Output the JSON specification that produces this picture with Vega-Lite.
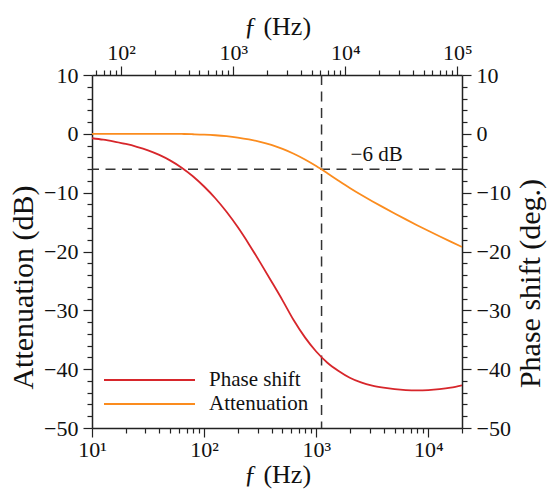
{
  "$schema": "https://vega.github.io/schema/vega-lite/v6.json",
  "width": 370,
  "height": 353,
  "autosize": "none",
  "padding": {"left": 92, "top": 75, "right": 85, "bottom": 61},
  "background": "white",
  "config": {
    "view": {"stroke": null},
    "font": "Liberation Serif",
    "axis": {
      "domainColor": "#222222",
      "domainWidth": 1.5,
      "tickColor": "#222222",
      "tickWidth": 1.2,
      "labelColor": "#111111",
      "titleColor": "#111111",
      "labelFont": "Liberation Serif",
      "titleFont": "Liberation Serif",
      "labelFontSize": 22,
      "titleFontSize": 26,
      "titleFontWeight": "normal",
      "grid": false,
      "labelOverlap": false,
      "labelFlush": false
    },
    "legend": {"labelFont": "Liberation Serif"}
  },
  "datasets": {
    "curves": [
      {"f": 10, "v": -0.75, "series": "Phase shift"},
      {"f": 12.6, "v": -1.0, "series": "Phase shift"},
      {"f": 15.8, "v": -1.33, "series": "Phase shift"},
      {"f": 20, "v": -1.72, "series": "Phase shift"},
      {"f": 25.1, "v": -2.2, "series": "Phase shift"},
      {"f": 31.6, "v": -2.8, "series": "Phase shift"},
      {"f": 39.8, "v": -3.58, "series": "Phase shift"},
      {"f": 50.1, "v": -4.55, "series": "Phase shift"},
      {"f": 63.1, "v": -5.75, "series": "Phase shift"},
      {"f": 79.4, "v": -7.2, "series": "Phase shift"},
      {"f": 100, "v": -8.95, "series": "Phase shift"},
      {"f": 125.9, "v": -10.95, "series": "Phase shift"},
      {"f": 158.5, "v": -13.25, "series": "Phase shift"},
      {"f": 199.5, "v": -15.85, "series": "Phase shift"},
      {"f": 251.2, "v": -18.75, "series": "Phase shift"},
      {"f": 316.2, "v": -21.85, "series": "Phase shift"},
      {"f": 398.1, "v": -25.05, "series": "Phase shift"},
      {"f": 501.2, "v": -28.3, "series": "Phase shift"},
      {"f": 631, "v": -31.7, "series": "Phase shift"},
      {"f": 794.3, "v": -34.6, "series": "Phase shift"},
      {"f": 1000, "v": -37.0, "series": "Phase shift"},
      {"f": 1259, "v": -38.9, "series": "Phase shift"},
      {"f": 1585, "v": -40.3, "series": "Phase shift"},
      {"f": 1995, "v": -41.45, "series": "Phase shift"},
      {"f": 2512, "v": -42.25, "series": "Phase shift"},
      {"f": 3162, "v": -42.8, "series": "Phase shift"},
      {"f": 3981, "v": -43.15, "series": "Phase shift"},
      {"f": 5012, "v": -43.4, "series": "Phase shift"},
      {"f": 6310, "v": -43.55, "series": "Phase shift"},
      {"f": 7943, "v": -43.6, "series": "Phase shift"},
      {"f": 10000, "v": -43.55, "series": "Phase shift"},
      {"f": 12589, "v": -43.4, "series": "Phase shift"},
      {"f": 15849, "v": -43.15, "series": "Phase shift"},
      {"f": 20000, "v": -42.75, "series": "Phase shift"},
      {"f": 10, "v": 0, "series": "Attenuation"},
      {"f": 50.1, "v": 0, "series": "Attenuation"},
      {"f": 63.1, "v": -0.02, "series": "Attenuation"},
      {"f": 79.4, "v": -0.07, "series": "Attenuation"},
      {"f": 100, "v": -0.135, "series": "Attenuation"},
      {"f": 125.9, "v": -0.24, "series": "Attenuation"},
      {"f": 158.5, "v": -0.4, "series": "Attenuation"},
      {"f": 199.5, "v": -0.63, "series": "Attenuation"},
      {"f": 251.2, "v": -0.945, "series": "Attenuation"},
      {"f": 316.2, "v": -1.36, "series": "Attenuation"},
      {"f": 398.1, "v": -1.895, "series": "Attenuation"},
      {"f": 501.2, "v": -2.57, "series": "Attenuation"},
      {"f": 631, "v": -3.395, "series": "Attenuation"},
      {"f": 794.3, "v": -4.37, "series": "Attenuation"},
      {"f": 1000, "v": -5.485, "series": "Attenuation"},
      {"f": 1259, "v": -6.705, "series": "Attenuation"},
      {"f": 1585, "v": -7.965, "series": "Attenuation"},
      {"f": 1995, "v": -9.195, "series": "Attenuation"},
      {"f": 2512, "v": -10.355, "series": "Attenuation"},
      {"f": 3162, "v": -11.45, "series": "Attenuation"},
      {"f": 3981, "v": -12.505, "series": "Attenuation"},
      {"f": 5012, "v": -13.535, "series": "Attenuation"},
      {"f": 6310, "v": -14.545, "series": "Attenuation"},
      {"f": 7943, "v": -15.53, "series": "Attenuation"},
      {"f": 10000, "v": -16.485, "series": "Attenuation"},
      {"f": 12589, "v": -17.415, "series": "Attenuation"},
      {"f": 15849, "v": -18.325, "series": "Attenuation"},
      {"f": 20000, "v": -19.23, "series": "Attenuation"}
    ],
    "topaxis": [
      {"ft": 55, "v": -50},
      {"ft": 110000, "v": 10}
    ],
    "hline": [{"v": -6}],
    "vline": [{"f": 1117}],
    "note": [{"f": 3460, "v": -3.6, "label": "−6 dB"}]
  },
  "layer": [
    {
      "data": {"name": "hline"},
      "mark": {"type": "rule", "color": "#333333", "strokeWidth": 1.5, "strokeDash": [10, 6.5]},
      "encoding": {
        "y": {"field": "v", "type": "quantitative", "scale": {"domain": [-50, 10], "nice": false, "zero": false}, "axis": null}
      }
    },
    {
      "data": {"name": "vline"},
      "mark": {"type": "rule", "color": "#333333", "strokeWidth": 1.5, "strokeDash": [10, 6.5]},
      "encoding": {
        "x": {"field": "f", "type": "quantitative", "scale": {"type": "log", "domain": [10, 20000], "nice": false}, "axis": null}
      }
    },
    {
      "data": {"name": "curves"},
      "mark": {"type": "line", "strokeWidth": 1.8, "interpolate": "monotone", "clip": true},
      "encoding": {
        "x": {
          "field": "f", "type": "quantitative",
          "scale": {"type": "log", "domain": [10, 20000], "nice": false},
          "axis": {
            "orient": "bottom",
            "title": "ƒ (Hz)",
            "titlePadding": 1,
            "values": [10, 20, 30, 40, 50, 60, 70, 80, 90, 100, 200, 300, 400, 500, 600, 700, 800, 900, 1000, 2000, 3000, 4000, 5000, 6000, 7000, 8000, 9000, 10000, 20000],
            "labelExpr": "datum.value == 10 ? '10¹' : datum.value == 100 ? '10²' : datum.value == 1000 ? '10³' : datum.value == 10000 ? '10⁴' : ''",
            "tickSize": {"condition": {"test": "datum.value == 10 || datum.value == 100 || datum.value == 1000 || datum.value == 10000", "value": 9}, "value": 5},
            "labelPadding": 2
          }
        },
        "y": {
          "field": "v", "type": "quantitative",
          "scale": {"domain": [-50, 10], "nice": false, "zero": false},
          "axis": {
            "orient": "left",
            "title": "Attenuation (dB)",
            "titleFontSize": 30,
            "titleY": 212,
            "values": [-50, -48, -46, -44, -42, -40, -38, -36, -34, -32, -30, -28, -26, -24, -22, -20, -18, -16, -14, -12, -10, -8, -6, -4, -2, 0, 2, 4, 6, 8, 10],
            "labelExpr": "datum.value % 10 == 0 ? format(datum.value, 'd') : ''",
            "tickSize": {"condition": {"test": "datum.value % 10 == 0", "value": 9}, "value": 5},
            "labelPadding": 5,
            "titlePadding": 5
          }
        },
        "color": {
          "field": "series", "type": "nominal",
          "scale": {"domain": ["Phase shift", "Attenuation"], "range": ["#d7262b", "#fb8c1e"]},
          "legend": {
            "orient": "none",
            "legendX": 11,
            "legendY": 294,
            "title": null,
            "padding": 0,
            "symbolType": "M-1,0H8.1",
            "symbolSize": 400,
            "symbolStrokeWidth": 1.8,
            "labelFontSize": 21,
            "labelColor": "#111111",
            "labelOffset": 84,
            "rowPadding": 3
          }
        }
      }
    },
    {
      "data": {"name": "note"},
      "mark": {"type": "text", "fontSize": 21, "font": "Liberation Serif", "color": "#111111", "align": "center", "baseline": "middle"},
      "encoding": {
        "x": {"field": "f", "type": "quantitative", "scale": {"type": "log", "domain": [10, 20000], "nice": false}, "axis": null},
        "y": {"field": "v", "type": "quantitative", "scale": {"domain": [-50, 10], "nice": false, "zero": false}, "axis": null},
        "text": {"field": "label"}
      }
    },
    {
      "data": {"name": "topaxis"},
      "mark": {"type": "point", "opacity": 0},
      "encoding": {
        "x": {
          "field": "ft", "type": "quantitative",
          "scale": {"type": "log", "domain": [55, 110000], "nice": false},
          "axis": {
            "orient": "top",
            "title": "ƒ (Hz)",
            "titlePadding": 2,
            "values": [60, 70, 80, 90, 100, 200, 300, 400, 500, 600, 700, 800, 900, 1000, 2000, 3000, 4000, 5000, 6000, 7000, 8000, 9000, 10000, 20000, 30000, 40000, 50000, 60000, 70000, 80000, 90000, 100000],
            "labelExpr": "datum.value == 100 ? '10²' : datum.value == 1000 ? '10³' : datum.value == 10000 ? '10⁴' : datum.value == 100000 ? '10⁵' : ''",
            "tickSize": {"condition": {"test": "datum.value == 100 || datum.value == 1000 || datum.value == 10000 || datum.value == 100000", "value": 9}, "value": 5},
            "labelPadding": 2
          }
        },
        "y": {
          "field": "v", "type": "quantitative",
          "scale": {"domain": [-50, 10], "nice": false, "zero": false},
          "axis": {
            "orient": "right",
            "title": "Phase shift (deg.)",
            "titleFontSize": 30,
            "titleAngle": 270,
            "titleBaseline": "top",
            "titleY": 208,
            "values": [-50, -48, -46, -44, -42, -40, -38, -36, -34, -32, -30, -28, -26, -24, -22, -20, -18, -16, -14, -12, -10, -8, -6, -4, -2, 0, 2, 4, 6, 8, 10],
            "labelExpr": "datum.value % 10 == 0 ? format(datum.value, 'd') : ''",
            "tickSize": {"condition": {"test": "datum.value % 10 == 0", "value": 9}, "value": 5},
            "labelPadding": 5,
            "titlePadding": 5
          }
        }
      }
    }
  ],
  "resolve": {"scale": {"x": "independent", "y": "independent"}}
}
